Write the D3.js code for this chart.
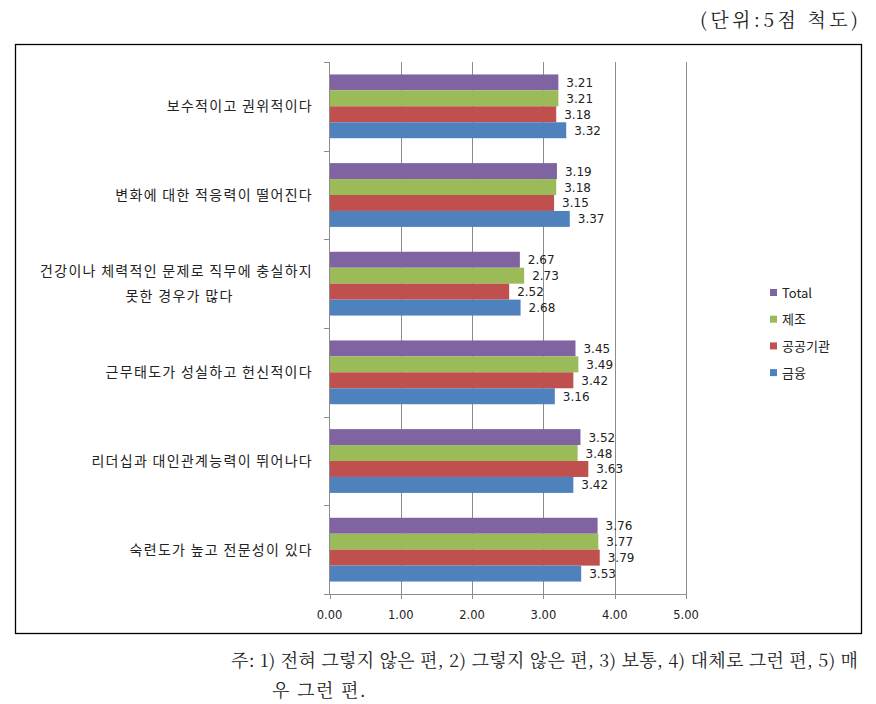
<!DOCTYPE html>
<html><head><meta charset="utf-8">
<script src="https://cdn.jsdelivr.net/npm/d3@7"></script>
<style>body{margin:0;background:#fff}svg{display:block}</style>
</head><body>
<svg id="c" width="876" height="704"></svg>
<script>
const categories = [
  ["보수적이고 권위적이다"],
  ["변화에 대한 적응력이 떨어진다"],
  ["건강이나 체력적인 문제로 직무에 충실하지", "못한 경우가 많다"],
  ["근무태도가 성실하고 헌신적이다"],
  ["리더십과 대인관계능력이 뛰어나다"],
  ["숙련도가 높고 전문성이 있다"]
];
const seriesNames = ["Total", "제조", "공공기관", "금융"];
const seriesColors = ["#8064A2", "#9BBB59", "#C0504D", "#4F81BD"];
const totalVals   = [3.21, 3.19, 2.67, 3.45, 3.52, 3.76];
const jejoVals    = [3.21, 3.18, 2.73, 3.49, 3.48, 3.77];
const publicVals  = [3.18, 3.15, 2.52, 3.42, 3.63, 3.79];
const financeVals = [3.32, 3.37, 2.68, 3.16, 3.42, 3.53];
const seriesValues = [totalVals, jejoVals, publicVals, financeVals];
const xTicks = [0, 1, 2, 3, 4, 5];
const unitText = "(단위:5점 척도)";
const noteLines = ["주: 1) 전혀 그렇지 않은 편, 2) 그렇지 않은 편, 3) 보통, 4) 대체로 그런 편, 5) 매", "우 그런 편."];

const svg = d3.select("#c");
const FONT = "'Noto Sans CJK KR', 'Noto Sans', sans-serif";
const SERIF = "'Noto Serif CJK KR', 'Noto Sans CJK KR', serif";
const NUM = "Verdana, 'DejaVu Sans', sans-serif";

// unit text
svg.append("text").attr("x", 700).attr("y", 27)
  .attr("font-family", SERIF).attr("font-size", 19).attr("fill", "#222")
  .attr("textLength", 158).attr("lengthAdjust", "spacing").text(unitText);

// outer frame
svg.append("rect").attr("x", 15.5).attr("y", 44.5).attr("width", 846).attr("height", 589)
  .attr("fill", "none").attr("stroke", "#000").attr("stroke-width", 1.3);

const x = d3.scaleLinear().domain([0, 5]).range([329.5, 686]);
const y = d3.scaleBand().domain(d3.range(categories.length)).range([62, 594]).paddingInner(0).paddingOuter(0);
const inner = d3.scaleBand().domain(d3.range(seriesNames.length)).range([0, y.bandwidth()]).paddingOuter(0.78).paddingInner(0);

// gridlines
svg.append("g").selectAll("line").data(xTicks.slice(1)).join("line")
  .attr("x1", d => Math.round(x(d)) + 0.5).attr("x2", d => Math.round(x(d)) + 0.5)
  .attr("y1", 62).attr("y2", 594).attr("stroke", "#8c8c8c").attr("stroke-width", 1);

// bars
const groups = svg.append("g").selectAll("g").data(categories).join("g")
  .attr("transform", (d, i) => `translate(0,${y(i)})`);
seriesNames.forEach((s, si) => {
  groups.append("rect")
    .attr("x", x(0)).attr("y", inner(si))
    .attr("width", (d, i) => x(seriesValues[si][i]) - x(0))
    .attr("height", inner.bandwidth())
    .attr("fill", seriesColors[si]);
  groups.append("text")
    .attr("x", (d, i) => x(seriesValues[si][i]) + 8)
    .attr("y", inner(si) + inner.bandwidth() / 2 + 4.5)
    .attr("font-family", NUM).attr("font-size", 12).attr("fill", "#222")
    .text((d, i) => seriesValues[si][i].toFixed(2));
});

// y axis
const yAxis = svg.append("g");
yAxis.append("line").attr("x1", 329.5).attr("x2", 329.5).attr("y1", 62).attr("y2", 594).attr("stroke", "#8c8c8c");
yAxis.selectAll("line.t").data(d3.range(categories.length + 1)).join("line").attr("class", "t")
  .attr("x1", 324).attr("x2", 329.5)
  .attr("y1", d => Math.round(62 + d * y.step()) + 0.5).attr("y2", d => Math.round(62 + d * y.step()) + 0.5)
  .attr("stroke", "#8c8c8c");

// category labels
groups.each(function(lines, i) {
  const g = d3.select(this);
  const c = y.bandwidth() / 2;
  const lh = 25;
  let center = null;
  lines.forEach((ln, li) => {
    const t = g.append("text")
      .attr("y", c + 5 + (li - (lines.length - 1) / 2) * lh)
      .attr("font-family", FONT).attr("font-size", 14).attr("letter-spacing", 1.3)
      .attr("fill", "#222").text(ln);
    if (li === 0) {
      t.attr("x", 313).attr("text-anchor", "end");
      const w = t.node().getComputedTextLength();
      center = 313 - w / 2 + 3;
    } else {
      t.attr("x", center).attr("text-anchor", "middle");
    }
  });
});

// x axis
const xa = svg.append("g");
xa.append("line").attr("x1", 324).attr("x2", 686).attr("y1", 594.5).attr("y2", 594.5).attr("stroke", "#8c8c8c");
xa.selectAll("line.t").data(xTicks).join("line").attr("class", "t")
  .attr("x1", d => Math.round(x(d)) + 0.5).attr("x2", d => Math.round(x(d)) + 0.5)
  .attr("y1", 594).attr("y2", 599).attr("stroke", "#8c8c8c");
xa.selectAll("text").data(xTicks).join("text")
  .attr("x", d => x(d)).attr("y", 619).attr("text-anchor", "middle")
  .attr("font-family", NUM).attr("font-size", 11.5).attr("fill", "#222")
  .text(d => d.toFixed(2));

// legend
const lg = svg.append("g").selectAll("g").data(seriesNames).join("g")
  .attr("transform", (d, i) => `translate(770,${293 + i * 26.7})`);
lg.append("rect").attr("x", 0).attr("y", -4).attr("width", 7).attr("height", 7).attr("fill", (d, i) => seriesColors[i]);
lg.append("text").attr("x", 12).attr("y", 4.5).attr("font-family", "Verdana, 'Noto Sans CJK KR', sans-serif")
  .attr("font-size", 13).attr("fill", "#222").text(d => d);

// notes
svg.append("text").attr("x", 231).attr("y", 667).attr("font-family", SERIF).attr("font-size", 18)
  .attr("fill", "#222").attr("textLength", 627).attr("lengthAdjust", "spacing").text(noteLines[0]);
svg.append("text").attr("x", 272).attr("y", 697).attr("font-family", SERIF).attr("font-size", 18)
  .attr("fill", "#222").attr("letter-spacing", 1.5).text(noteLines[1]);
</script>
</body></html>
